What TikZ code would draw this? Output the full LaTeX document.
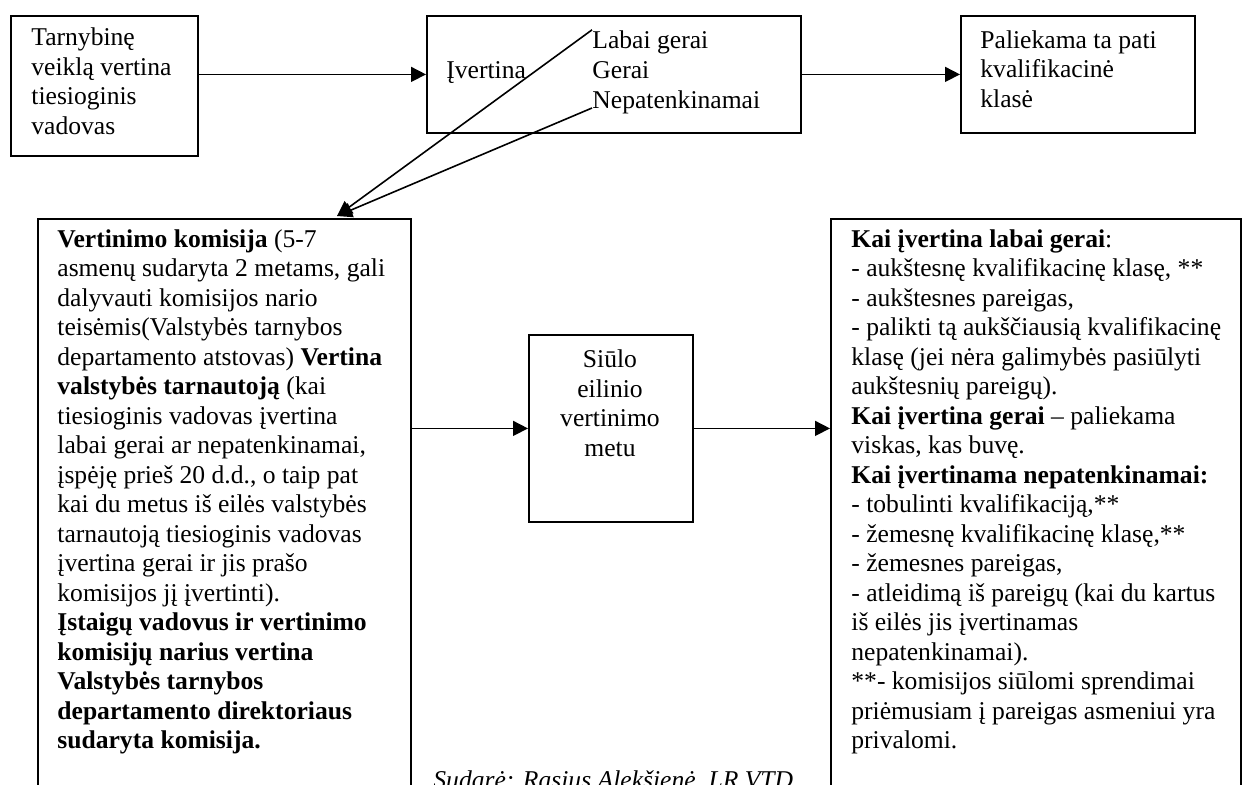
\documentclass[tikz,border=0pt]{standalone}
\usepackage{fontspec}
\setmainfont{Liberation Serif}
\usetikzlibrary{arrows.meta, positioning}
\newcommand{\bodyfont}{\fontsize{12.8}{14.75}\selectfont}
\tikzset{
	box/.style      ={rectangle, draw=black, line width=0.9pt, anchor=north west, inner sep=0pt},
	boxtext/.style  ={anchor=base west, align=left, inner sep=0pt},
	flowarrow/.style={-{Triangle[length=7.5pt, width=7.5pt]}, line width=0.8pt},
}
\begin{document}
\begin{tikzpicture}[x=0.5pt, y=-0.5pt, font=\bodyfont]
	\useasboundingbox (0,0) rectangle (1243,784);
	% top row (text nodes sit on the baseline of their last line)
	\node[box, minimum width=93.5pt, minimum height=70pt] (vadovas) at (10,15) {};
	\node[box, minimum width=187pt, minimum height=58.5pt] (ivertina) at (426,15) {};
	\node[box, minimum width=117pt, minimum height=58.5pt] (klase) at (960,15) {};
	\node[boxtext] (vadovasT) at (31,134) {Tarnybinę\\ veiklą vertina\\ tiesioginis\\ vadovas};
	\node[boxtext] (ivertinaT) at (446,78) {Įvertina};
	\node[boxtext] (lg) at (592,48) {Labai gerai};
	\node[boxtext] (g) at (592,78) {Gerai};
	\node[boxtext] (np) at (592,108) {Nepatenkinamai};
	\node[boxtext] (klaseT) at (980,107) {Paliekama ta pati\\ kvalifikacinė\\ klasė};
	% lower row
	\node[box, minimum width=186.5pt, minimum height=286pt] (komisija) at (37,218) {};
	\node[box, minimum width=82pt, minimum height=93.5pt] (siulo) at (528,334) {};
	\node[box, minimum width=205pt, minimum height=286pt] (sprendimai) at (830,218) {};
	\node[boxtext] (komisijaT) at (57,748.5) {\textbf{Vertinimo komisija} (5-7\\
		asmenų sudaryta 2 metams, gali\\
		dalyvauti komisijos nario\\
		teisėmis(Valstybės tarnybos\\
		departamento atstovas) \textbf{Vertina}\\
		\textbf{valstybės tarnautoją} (kai\\
		tiesioginis vadovas įvertina\\
		labai gerai ar nepatenkinamai,\\
		įspėję prieš 20 d.d., o taip pat\\
		kai du metus iš eilės valstybės\\
		tarnautoją tiesioginis vadovas\\
		įvertina gerai ir jis prašo\\
		komisijos jį įvertinti).\\
		\textbf{Įstaigų vadovus ir vertinimo}\\
		\textbf{komisijų narius vertina}\\
		\textbf{Valstybės tarnybos}\\
		\textbf{departamento direktoriaus}\\
		\textbf{sudaryta komisija.}};
	\node[boxtext, anchor=base, align=center] (siuloT) at (610,456) {Siūlo\\ eilinio\\ vertinimo\\ metu};
	\node[boxtext] (sprendimaiT) at (851,748.5) {\textbf{Kai įvertina labai gerai}:\\
		- aukštesnę kvalifikacinę klasę, **\\
		- aukštesnes pareigas,\\
		- palikti tą aukščiausią kvalifikacinę\\
		klasę (jei nėra galimybės pasiūlyti\\
		aukštesnių pareigų).\\
		\textbf{Kai įvertina gerai} – paliekama\\
		viskas, kas buvę.\\
		\textbf{Kai įvertinama nepatenkinamai:}\\
		- tobulinti kvalifikaciją,**\\
		- žemesnę kvalifikacinę klasę,**\\
		- žemesnes pareigas,\\
		- atleidimą iš pareigų (kai du kartus\\
		iš eilės jis įvertinamas\\
		nepatenkinamai).\\
		**- komisijos siūlomi sprendimai\\
		priėmusiam į pareigas asmeniui yra\\
		privalomi.};
	\node[boxtext, font=\bodyfont\itshape] (saltinis) at (433,788) {Sudarė: Rasius Alekšienė, LR VTD};
	% connectors
	\coordinate (tip) at (337,216);
	\draw[flowarrow] (vadovas.east |- ivertina.west) -- (ivertina.west);
	\draw[flowarrow] (ivertina.east) -- (klase.west);
	\draw[flowarrow] (lg.north west) -- (tip);
	\draw[flowarrow] (np.base west) -- (tip);
	\draw[flowarrow] (komisija.east |- siulo.west) -- (siulo.west);
	\draw[flowarrow] (siulo.east) -- (siulo.east -| sprendimai.west);
\end{tikzpicture}
\end{document}
